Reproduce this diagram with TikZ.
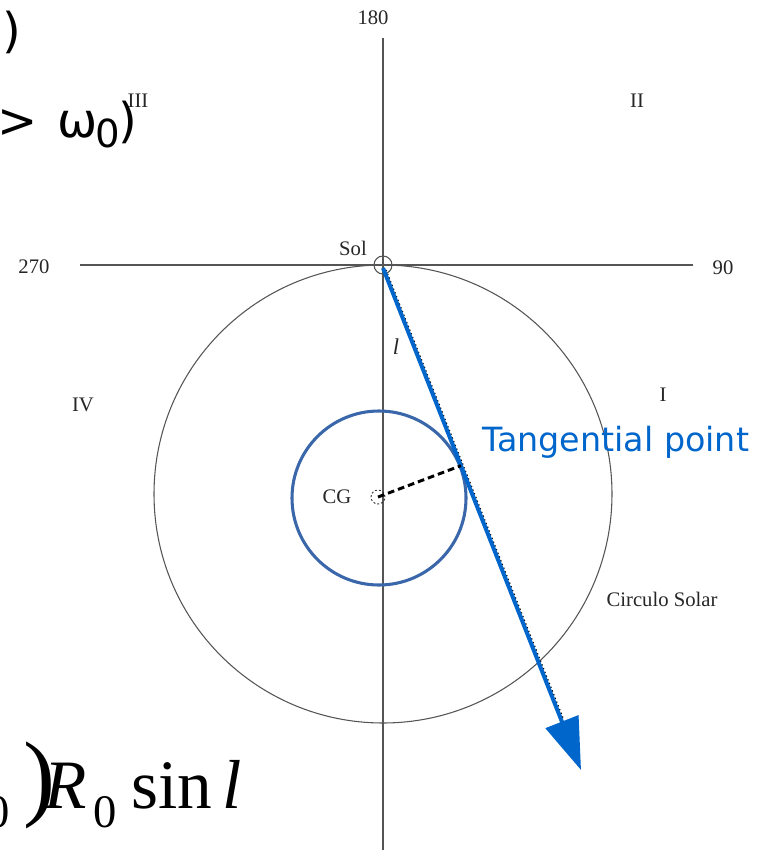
\documentclass[tikz,border=0pt]{standalone}
\usepackage{fontspec}
\setmainfont{Liberation Serif}
\newfontfamily\dejavu{DejaVu Sans}
\usetikzlibrary{arrows.meta,calc}
\definecolor{arrowblue}{HTML}{0066CC}
\definecolor{ringblue}{HTML}{3A66AA}
\definecolor{axisgray}{HTML}{555555}
\tikzset{
  axis/.style={draw=axisgray, line width=1.1pt},
  lbl/.style={text=black!85, font=\fontsize{15.5}{18}\selectfont, inner sep=0pt},
  bigmath/.style={inner sep=0pt, font=\fontsize{52}{60}\selectfont},
  subm/.style={inner sep=0pt, font=\fontsize{35}{40}\selectfont},
  topline/.style={inner sep=0pt, font=\dejavu\fontsize{36}{40}\selectfont},
}
\begin{document}
\begin{tikzpicture}[x=0.75pt, y=-0.75pt]
\useasboundingbox (0,0) rectangle (770,850);
\clip (0,0) rectangle (770,850);

% axes
\coordinate (vtop) at (383,38);
\coordinate (vbot) at (383,850);
\coordinate (hl) at (80,265);
\coordinate (hr) at (693,265);
\draw[axis] (vtop) -- (vbot);
\draw[axis] (hl) -- (hr);

% solar circle
\node[draw=axisgray, line width=0.8pt, circle, minimum size=458*0.75pt, inner sep=0pt] (solar) at (383,494) {};

% Sol
\node[draw=axisgray, line width=0.8pt, circle, minimum size=13.5pt, inner sep=0pt] (sol) at (383,265) {};
\node[lbl] (sollbl) at (353,248) {Sol};

% axis labels
\node[lbl] (l180) at (373,18) {180};
\node[lbl] (l270) at (34,267) {270};
\node[lbl] (l90) at (723,268) {90};
\node[lbl] (qiii) at (138,101) {III};
\node[lbl] (qii) at (637,101) {II};
\node[lbl] (qiv) at (83,405) {IV};
\node[lbl] (qi) at (663,395) {I};
\node[lbl] (circ) at (662,599) {Circulo Solar};
\node[lbl, font=\fontsize{17}{19}\selectfont\itshape] (ell) at (396,347) {l};

% CG
\node[draw=ringblue, line width=2.3pt, circle, minimum size=174*0.75pt, inner sep=0pt] (ring) at (379,498) {};
\node[draw=black!80, dashed, dash pattern=on 1.5pt off 1.5pt, line width=0.7pt, circle, minimum size=10.5pt, inner sep=0pt] (cg) at (378,497) {};
\node[lbl] (cglbl) at (337,497) {CG};

% line of sight
\coordinate (start) at (383,268);
\coordinate (tip) at (581,770);
\coordinate (dotend) at (563,718);
\coordinate (dotstart) at (386,270);
\draw[black, line width=1pt, dotted] (dotstart) -- (dotend);
\draw[arrowblue, line width=3pt, -{Triangle[length=39pt, width=26pt]}] (start) -- (tip);

% tangent point
\coordinate (tp) at ($(start)!(ring.center)!(tip)$);
\draw[black, line width=2.2pt, dash pattern=on 5pt off 3pt] (cg.center) -- (tp);
\node[anchor=base west, inner sep=0pt, text=arrowblue, font=\dejavu\fontsize{25}{28}\selectfont] (tplbl) at (482,451) {Tangential point};

% cut-off text, top left
\node[topline, anchor=base east] (p1) at (21,47) {)};
\node[topline, anchor=base west] (gt) at (-3,137) {>};
\node[topline, anchor=base west] (om) at (57,137) {ω};
\node[inner sep=0pt, font=\dejavu\fontsize{29}{32}\selectfont, anchor=base west] (om0) at (95,147) {0};
\node[topline, anchor=base west] (p2) at (118,137) {)};

% cut-off formula, bottom left
\node[subm, anchor=base east] (z0) at (10,827) {0};
\node[inner sep=0pt, font=\fontsize{72}{80}\selectfont, anchor=base west] (bigp) at (23,808) {)};
\node[bigmath, anchor=base west] (R) at (44,808) {\itshape R};
\node[subm, anchor=base west] (R0) at (93,827) {0};
\node[bigmath, anchor=base west] (sin) at (131,808) {sin};
\node[bigmath, anchor=base west] (ll) at (222,808) {\itshape l};
\end{tikzpicture}
\end{document}
